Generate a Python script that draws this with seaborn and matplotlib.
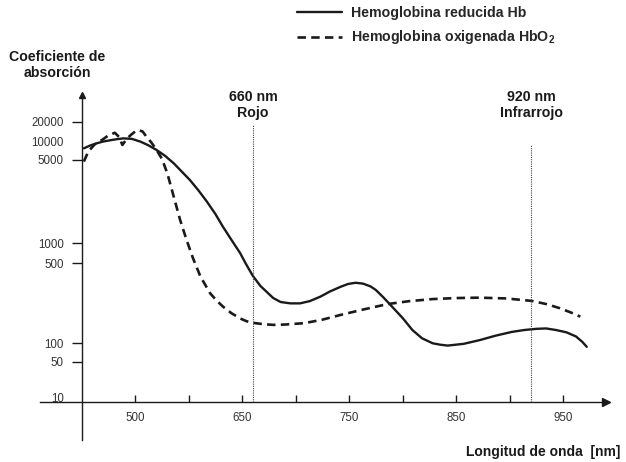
import numpy as np
import pandas as pd
import matplotlib
matplotlib.use("Agg")
import matplotlib.pyplot as plt
import matplotlib.transforms as mtransforms
import seaborn as sns

# Hemoglobina reducida (Hb): longitud de onda [nm] / coeficiente de absorción
hb_nm = [502, 508, 514, 520, 527, 533, 539, 547, 555, 562, 570, 578, 586, 594, 601, 609, 617,
         625, 632, 640, 648, 654, 660, 667, 673, 679, 686, 695, 704, 713, 723, 732, 742, 749,
         756, 763, 770, 775, 782, 790, 800, 809, 818, 828, 835, 842, 857, 872, 887, 902, 914,
         925, 934, 943, 953, 962, 968, 972]
hb_abs = [7660, 8500, 9200, 9800, 10300, 10700, 11000, 10800, 9750, 8600, 7200, 5800, 4690,
          3950, 3400, 2780, 2230, 1750, 1370, 1060, 707, 481, 385, 315, 279, 247, 228, 222,
          222, 232, 254, 282, 310, 328, 336, 330, 312, 290, 250, 208, 165, 130, 110, 99, 94,
          91, 97, 106, 116, 125, 130, 133, 134, 130, 124, 114, 102, 87]

# Hemoglobina oxigenada (HbO2)
hbo2_nm = [502, 506, 512, 519, 525, 531, 535, 538, 542, 546, 550, 553, 557, 560, 565, 570,
           575, 580, 586, 592, 598, 604, 611, 620, 626, 632, 640, 648, 654, 660, 670, 679,
           690, 708, 725, 742, 764, 786, 806, 828, 850, 872, 897, 921, 935, 947, 957, 966]
hbo2_abs = [4850, 6750, 8800, 10400, 12300, 13500, 11500, 8650, 10800, 12500, 14200, 14900,
            14100, 12000, 9500, 7200, 5200, 3860, 2455, 1560, 1060, 590, 380, 272, 235, 208,
            182, 164, 155, 150, 146, 144, 145, 149, 160, 176, 197, 219, 232, 242, 247, 249,
            245, 233, 218, 201, 185, 170]

# ejes
x_ticks = [550, 600, 650, 700, 750, 800, 850, 900, 950]
x_tick_labels = ["500", "", "650", "", "750", "", "850", "", "950"]
y_ticks = [10, 50, 100, 500, 1000, 5000, 10000, 20000]
y_tick_labels = ["10", "50", "100", "500", "1000", "5000", "10000", "20000"]
marker_nm = [660, 920]
marker_top = [18000, 8500]
marker_text = ["660 nm\nRojo", "920 nm\nInfrarrojo"]

# escala vertical del dibujo original (no es logarítmica exacta)
scale_vals = np.log10([1, 10, 50, 100, 500, 1000, 5000, 10000, 20000, 100000])
scale_pos = [-45, 5, 40, 59, 139, 159, 242, 261, 280, 330]


def fwd(v):
    v = np.clip(np.asarray(v, dtype=float), 1e-6, None)
    return np.interp(np.log10(v), scale_vals, scale_pos)


def inv(h):
    return 10 ** np.interp(np.asarray(h, dtype=float), scale_pos, scale_vals)


sns.set_theme(style="white")
plt.rcParams["font.family"] = ["Liberation Sans", "DejaVu Sans"]
plt.rcParams["mathtext.default"] = "regular"

ink = "#1a1a1a"
fig = plt.figure(figsize=(6.26, 4.62), dpi=100)
ax = fig.add_axes([40 / 626, 22 / 462, 566 / 626, 345 / 462])

df_hb = pd.DataFrame({"nm": hb_nm, "abs": hb_abs})
df_hbo2 = pd.DataFrame({"nm": hbo2_nm, "abs": hbo2_abs})
sns.lineplot(data=df_hb, x="nm", y="abs", ax=ax, color=ink, linewidth=1.7,
             label="Hemoglobina reducida Hb")
sns.lineplot(data=df_hbo2, x="nm", y="abs", ax=ax, color=ink, linewidth=1.9,
             linestyle=(0, (3.2, 2.0)), label="Hemoglobina oxigenada HbO$_2$")

ax.set_yscale("function", functions=(fwd, inv))
y_base = float(inv(0))
ax.set_xlim(461, 990)
ax.set_ylim(float(inv(-38)), float(inv(307)))

# líneas verticales punteadas
ax.vlines(marker_nm, y_base, marker_top, colors="#444444", linestyles=(0, (1, 1)), linewidth=0.8)
tr = mtransforms.blended_transform_factory(ax.transData, fig.transFigure)
for xv, txt in zip(marker_nm, marker_text):
    ax.text(xv, 1 - 105 / 462, txt, transform=tr, ha="center", va="center",
            fontsize=10.2, fontweight="bold", color=ink, linespacing=1.25)

# ejes cruzados con flechas
for s in ["top", "right"]:
    ax.spines[s].set_visible(False)
ax.spines["left"].set_position(("data", 500))
ax.spines["bottom"].set_position(("data", y_base))
for s in ["left", "bottom"]:
    ax.spines[s].set_color(ink)
    ax.spines[s].set_linewidth(1.0)
ax.plot(1, y_base, ">", color=ink, markersize=6, transform=ax.get_yaxis_transform(), clip_on=False)
ax.plot(500, 1, "^", color=ink, markersize=5, transform=ax.get_xaxis_transform(), clip_on=False)

ax.set_xticks(x_ticks, labels=x_tick_labels)
ax.set_yticks(y_ticks, labels=y_tick_labels)
ax.minorticks_off()
ax.tick_params(axis="x", bottom=True, direction="in", length=5, width=1, color=ink, pad=7,
               labelsize=8.3, labelcolor="#333333")
ax.tick_params(axis="y", left=True, direction="out", length=7, width=1, color=ink, pad=6,
               labelsize=8.3, labelcolor="#333333")
for t, v in zip(ax.yaxis.get_major_ticks(), y_ticks):
    if v in (10, 10000):
        t.tick1line.set_visible(False)
ax.set_xlabel("")
ax.set_ylabel("")

fig.text(57 / 626, 1 - 65 / 462, "Coeficiente de\nabsorción", ha="center", va="center",
         fontsize=10.2, fontweight="bold", color=ink, linespacing=1.25)
fig.text(466 / 626, 1 - 452 / 462, "Longitud de onda  [nm]", ha="left", va="center",
         fontsize=10, fontweight="bold", color=ink)

ax.legend(loc="upper left", bbox_to_anchor=(297 / 626, 1 - 6 / 462), bbox_transform=fig.transFigure,
          frameon=False, borderpad=0, borderaxespad=0, handlelength=3.2, handletextpad=0.6,
          labelspacing=0.6, prop={"weight": "bold", "size": 10.2})

fig.savefig("out.png", dpi=100)
